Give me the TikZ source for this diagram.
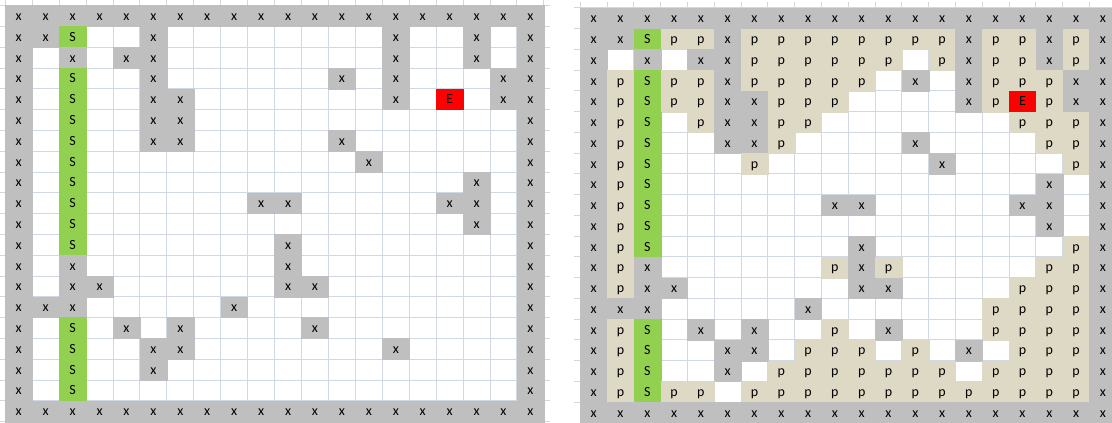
\documentclass[tikz,border=0pt]{standalone}
\usepackage{fontspec}
\setmainfont{Carlito}
\definecolor{gridc}{HTML}{D0D7E5}
\definecolor{wallc}{HTML}{BFBFBF}
\definecolor{startc}{HTML}{92D050}
\definecolor{endc}{HTML}{FF0000}
\definecolor{pathc}{HTML}{DDD9C4}
\def\txtx{x}\def\txtS{S}\def\txtE{E}\def\txtp{p}\def\txto{}
\tikzset{
  gridline/.style={draw=gridc, line width=0.75pt},
  cellbase/.style={inner sep=0pt, outer sep=0pt, text height=7.9pt, text depth=1.3pt,
    font=\fontsize{10.5}{12}\selectfont, text=black},
  cellx/.style={cellbase, fill=wallc, draw=wallc, line width=0.3pt},
  cellS/.style={cellbase, fill=startc, draw=startc, line width=0.3pt},
  cellE/.style={cellbase, fill=endc, draw=endc, line width=0.3pt},
  cellp/.style={cellbase, fill=pathc, draw=pathc, line width=0.3pt},
  cello/.style={cellbase},
}
% #1 x0, #2 y0, #3 cw (px), #4 rh (px), #5 cw (pt), #6 rh (pt), #7 prefix, #8 rows
\newcommand\mazegrid[8]{%
  \foreach \i in {0,...,20}{
    \draw[gridline] ({#1+\i*#3},{#2-6}) -- ({#1+\i*#3},{#2+20*#4+6});
    \draw[gridline] ({#1-6},{#2+\i*#4}) -- ({#1+20*#3+6},{#2+\i*#4});
  }
  \foreach \row [count=\r from 0] in {#8}{
    \foreach \t [count=\c from 0] in \row{
      \node[cell\t, minimum width=#5, minimum height=#6] (#7-\r-\c)
        at ({#1+(\c+0.5)*#3},{#2+(\r+0.5)*#4}) {\csname txt\t\endcsname};
    }
  }
}
\begin{document}
\begin{tikzpicture}[x=0.75pt,y=-0.75pt]
\useasboundingbox (0,0) rectangle (1112,423);
\clip (0,0) rectangle (1112,423);
\fill[white] (0,0) rectangle (1112,423);
\mazegrid{5.3}{5.7}{26.93}{20.8}{20.2pt}{15.6pt}{L}{
{x,x,x,x,x,x,x,x,x,x,x,x,x,x,x,x,x,x,x,x},
{x,x,S,o,o,x,o,o,o,o,o,o,o,o,x,o,o,x,o,x},
{x,o,x,o,x,x,o,o,o,o,o,o,o,o,x,o,o,x,o,x},
{x,o,S,o,o,x,o,o,o,o,o,o,x,o,x,o,o,o,x,x},
{x,o,S,o,o,x,x,o,o,o,o,o,o,o,x,o,E,o,x,x},
{x,o,S,o,o,x,x,o,o,o,o,o,o,o,o,o,o,o,o,x},
{x,o,S,o,o,x,x,o,o,o,o,o,x,o,o,o,o,o,o,x},
{x,o,S,o,o,o,o,o,o,o,o,o,o,x,o,o,o,o,o,x},
{x,o,S,o,o,o,o,o,o,o,o,o,o,o,o,o,o,x,o,x},
{x,o,S,o,o,o,o,o,o,x,x,o,o,o,o,o,x,x,o,x},
{x,o,S,o,o,o,o,o,o,o,o,o,o,o,o,o,o,x,o,x},
{x,o,S,o,o,o,o,o,o,o,x,o,o,o,o,o,o,o,o,x},
{x,o,x,o,o,o,o,o,o,o,x,o,o,o,o,o,o,o,o,x},
{x,o,x,x,o,o,o,o,o,o,x,x,o,o,o,o,o,o,o,x},
{x,x,x,o,o,o,o,o,x,o,o,o,o,o,o,o,o,o,o,x},
{x,o,S,o,x,o,x,o,o,o,o,x,o,o,o,o,o,o,o,x},
{x,o,S,o,o,x,x,o,o,o,o,o,o,o,x,o,o,o,o,x},
{x,o,S,o,o,x,o,o,o,o,o,o,o,o,o,o,o,o,o,x},
{x,o,S,o,o,o,o,o,o,o,o,o,o,o,o,o,o,o,o,x},
{x,x,x,x,x,x,x,x,x,x,x,x,x,x,x,x,x,x,x,x}}
\mazegrid{580.3}{8.0}{26.8}{20.75}{20.1pt}{15.56pt}{R}{
{x,x,x,x,x,x,x,x,x,x,x,x,x,x,x,x,x,x,x,x},
{x,x,S,p,p,x,p,p,p,p,p,p,p,p,x,p,p,x,p,x},
{x,o,x,o,x,x,p,p,p,p,p,p,o,p,x,p,p,x,p,x},
{x,p,S,p,p,x,p,p,p,p,p,o,x,o,x,p,p,p,x,x},
{x,p,S,p,p,x,x,p,p,p,o,o,o,o,x,p,E,p,x,x},
{x,p,S,o,p,x,x,p,p,o,o,o,o,o,o,o,p,p,p,x},
{x,p,S,o,o,x,x,p,o,o,o,o,x,o,o,o,o,p,p,x},
{x,p,S,o,o,o,p,o,o,o,o,o,o,x,o,o,o,o,p,x},
{x,p,S,o,o,o,o,o,o,o,o,o,o,o,o,o,o,x,o,x},
{x,p,S,o,o,o,o,o,o,x,x,o,o,o,o,o,x,x,o,x},
{x,p,S,o,o,o,o,o,o,o,o,o,o,o,o,o,o,x,o,x},
{x,p,S,o,o,o,o,o,o,o,x,o,o,o,o,o,o,o,p,x},
{x,p,x,o,o,o,o,o,o,p,x,p,o,o,o,o,o,p,p,x},
{x,p,x,x,o,o,o,o,o,o,x,x,o,o,o,o,p,p,p,x},
{x,x,x,o,o,o,o,o,x,o,o,o,o,o,o,p,p,p,p,x},
{x,p,S,o,x,o,x,o,o,p,o,x,o,o,o,p,p,p,p,x},
{x,p,S,o,o,x,x,o,p,p,p,o,p,o,x,o,p,p,p,x},
{x,p,S,o,o,x,o,p,p,p,p,p,p,p,o,p,p,p,p,x},
{x,p,S,p,p,o,p,p,p,p,p,p,p,p,p,p,p,p,p,x},
{x,x,x,x,x,x,x,x,x,x,x,x,x,x,x,x,x,x,x,x}}
\end{tikzpicture}
\end{document}
